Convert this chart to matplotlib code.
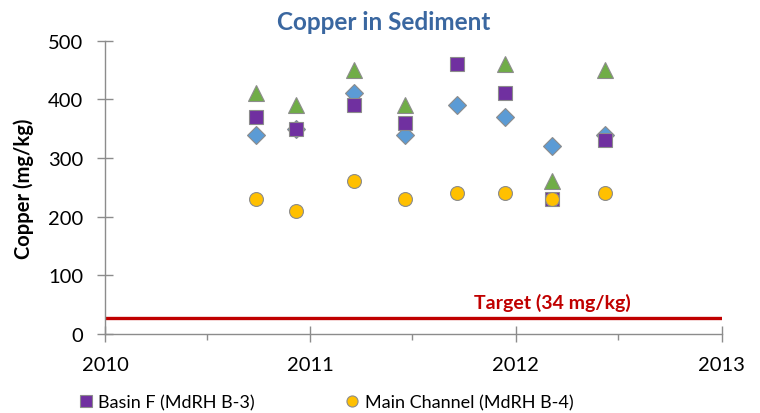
import datetime as dt
import matplotlib
matplotlib.use("Agg")
import matplotlib.pyplot as plt
import matplotlib.dates as mdates
from matplotlib.lines import Line2D

plt.rcParams['font.family'] = ['Lato', 'DejaVu Sans']

nan = float('nan')

# sampling dates
dates = [dt.date(2010, 9, 26), dt.date(2010, 12, 7), dt.date(2011, 3, 20),
         dt.date(2011, 6, 19), dt.date(2011, 9, 19), dt.date(2011, 12, 12),
         dt.date(2012, 3, 5), dt.date(2012, 6, 7)]

# copper, mg/kg
site_diamond = [340, 350, 410, 340, 390, 370, 320, 340]
site_triangle = [410, 390, 450, 390, nan, 460, 260, 450]
basin_f = [370, 350, 390, 360, 460, 410, 230, 330]
main_channel = [230, 210, 260, 230, 240, 240, 230, 240]

target = 28
target_label = "Target (34 mg/kg)"

yticks = [0, 100, 200, 300, 400, 500]
years = [2010, 2011, 2012, 2013]

fig = plt.figure(figsize=(7.6, 4.14), dpi=100)
ax = fig.add_axes([105/760, 1 - 335/414, 616.7/760, (335 - 41.7)/414])

edge = '#8c8c8c'
ax.axhline(target, color='#C00000', lw=2.4, zorder=1)
ax.plot(dates, site_diamond, 'D', ms=9, mfc='#5B9BD5', mec=edge, mew=0.8, zorder=3)
ax.plot(dates, site_triangle, '^', ms=11, mfc='#70AD47', mec=edge, mew=0.8, zorder=3)
ax.plot(dates, basin_f, 's', ms=9.5, mfc='#7030A0', mec=edge, mew=0.8, zorder=3)
ax.plot(dates, main_channel, 'o', ms=10, mfc='#FFC000', mec=edge, mew=0.8, zorder=3)

ax.text(0.726, 54, target_label, transform=ax.get_yaxis_transform(),
        ha='center', va='center', color='#C00000', fontsize=14, fontweight='bold')

ax.set_xlim(dt.date(years[0], 1, 1), dt.date(years[-1], 1, 1))
ax.set_ylim(yticks[0], yticks[-1])
ax.set_yticks(yticks)
ax.xaxis.set_major_locator(mdates.YearLocator())
ax.xaxis.set_minor_locator(mdates.MonthLocator(bymonth=7))
ax.xaxis.set_major_formatter(mdates.DateFormatter('%Y'))

for s in ['top', 'right']:
    ax.spines[s].set_visible(False)
for s in ['left', 'bottom']:
    ax.spines[s].set_color(edge)
    ax.spines[s].set_linewidth(1.0)

ax.tick_params(which='major', direction='inout', length=11, width=1, color=edge,
               labelsize=14.5, pad=10)
ax.tick_params(axis='x', which='minor', direction='out', length=4, width=1, color=edge)

ax.set_ylabel("Copper (mg/kg)", fontsize=14.5, fontweight='bold', labelpad=10)
fig.text(384/760, 1 - 23/414, "Copper in Sediment", ha='center', va='center',
         fontsize=17.5, fontweight='bold', color='#3A67A0')

handles = [Line2D([], [], ls='', marker='s', ms=8, mfc='#7030A0', mec=edge, mew=0.8),
           Line2D([], [], ls='', marker='o', ms=8, mfc='#FFC000', mec=edge, mew=0.8)]
fig.legend(handles, ["Basin F (MdRH B-3)", "Main Channel (MdRH B-4)"],
           loc='center', bbox_to_anchor=(326/760, 11/414), ncol=2, frameon=False,
           fontsize=13, handlelength=0.8, handletextpad=0.3, columnspacing=5)

fig.savefig("out.png", dpi=100)
